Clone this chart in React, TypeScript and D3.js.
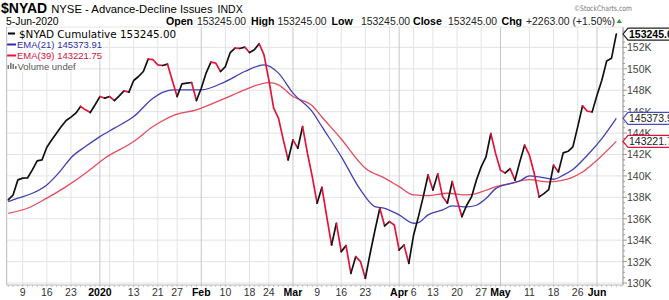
import React from "react";
import * as d3 from "d3";

const W = 669;
const H = 300;

// trading-day index 0 = 9-Dec-2019; first value is 4-Dec-2019
const FIRST_DAY = -3;
// $NYAD cumulative close, in thousands (4-Dec-2019 .. 5-Jun-2020)
const nyadValues = [
  137.76, 138.22, 139.63,
  139.79, 139.81, 140.56, 141.4, 141.5, 142.68, 143.36, 143.99, 144.61, 145.17,
  145.49, 145.86, 146.48, 146.17, 145.92, 146.64, 147.41, 147.26, 147.41, 147.04,
  147.48, 147.94, 147.82, 148.91, 149.28, 149.75, 150.91, 150.85, 150.37, 150.31,
  150.44, 148.9, 147.41, 148.6, 148.66, 148.72, 147.04, 148.19, 149.6, 150.62,
  150.53, 149.75, 150.21, 151.52, 151.93, 151.9, 152.02, 151.52, 151.78, 152.34,
  151.31, 148.97, 146.32, 145.39, 143.36, 141.5, 143.36, 142.58, 144.61, 142.12,
  139.93, 137.45, 138.94, 136.2, 133.55, 135.58, 132.93, 133.49, 130.9, 132.46,
  131.99, 130.44, 132.78, 134.95, 136.98, 135.33, 135.73, 135.42, 133.08, 133.55,
  131.84, 134.49, 136.2, 138.07, 140.09, 138.69, 140.19, 138.07, 137.45, 139.47,
  137.76, 136.2, 137.26, 138.04, 139.6, 140.84, 141.78, 143.96, 142.08, 140.53,
  140.28, 140.68, 139.6, 141.31, 142.87, 141.93, 140.22, 138.04, 138.35, 138.72,
  141.0, 140.37, 142.15, 142.3, 142.71, 144.58, 146.54, 146.04, 145.98, 147.54,
  148.94, 150.72, 150.98, 153.245,
];

// EMA(21) read at selected trading days
const ema21Days = [-3, -1, 2, 5, 8, 10, 13, 16, 19, 23, 27, 29, 31, 37, 42, 46, 50, 53, 56, 60, 62, 66, 70, 73, 75, 78, 81, 82, 84, 87, 89, 92, 94, 96, 98, 101, 103, 105, 107, 110, 112, 114, 117, 120, 123];
const ema21Values = [137.6, 137.92, 138.38, 139.16, 140.56, 141.7, 142.74, 143.67, 144.46, 145.54, 147.26, 147.8, 148.04, 148.04, 148.81, 149.75, 150.37, 149.6, 147.73, 146.0, 144.6, 141.8, 138.69, 137.13, 136.98, 136.36, 135.58, 135.64, 136.36, 136.82, 137.2, 137.1, 137.26, 137.88, 138.81, 139.28, 139.53, 140.0, 139.91, 139.69, 140.07, 140.6, 141.93, 143.49, 145.374];

// EMA(39) read at selected trading days
const ema39Days = [-3, 1, 5, 9, 13, 17, 23, 27, 29, 31, 36, 42, 46, 51, 53, 56, 60, 62, 66, 71, 75, 78, 81, 84, 88, 92, 94, 96, 98, 101, 105, 109, 112, 116, 119, 123];
const ema39Values = [136.51, 136.98, 137.92, 139.0, 140.25, 141.65, 143.21, 144.61, 145.15, 145.61, 146.17, 147.26, 148.04, 148.72, 148.5, 147.41, 146.55, 145.5, 143.45, 140.72, 139.79, 139.0, 138.22, 138.16, 138.38, 138.22, 138.35, 138.66, 138.97, 139.28, 139.65, 139.44, 139.6, 140.37, 141.47, 143.222];

const tickDays = [0, 5, 10, 16, 23, 28, 32, 37, 42, 47, 51, 56, 61, 66, 71, 78, 81, 85, 90, 95, 99, 105, 110, 115, 119];
const tickLabels = ["9", "16", "23", "2020", "13", "21", "27", "Feb", "10", "18", "24", "Mar", "9", "16", "23", "Apr", "6", "13", "20", "27", "May", "11", "18", "26", "Jun"];
const monthLabels = ["2020", "Feb", "Mar", "Apr", "May", "Jun"];
const extraGridDays = [18, 76];
const yTickValues = [130, 132, 134, 136, 138, 140, 142, 144, 146, 148, 150, 152];

const headerFields = ["Open", "High", "Low", "Close"];
const headerValue = "153245.00";
const changeText = "+2263.00 (+1.50%)";
const closeTag = "153245.00";
const ema21Tag = "145373.91";
const ema39Tag = "143221.75";

const PLOT = { left: 6.7, right: 623, top: 27, bottom: 285 };
const UP = "#111111";
const DOWN = "#e0143c";
const BLUE = "#4040b4";
const PINK = "#e64a5e";
const FONT = "'Liberation Sans', Arial, sans-serif";

export default function App() {
  const x = d3.scaleLinear().domain([0, 119]).range([22.7, 597]);
  const y = d3.scaleLinear().domain([130, 152]).range([283, 47.4]);

  const pts: [number, number][] = nyadValues.map((v, k) => [x(k + FIRST_DAY), y(v)]);
  const runs: { color: string; pts: [number, number][] }[] = [];
  for (let k = 1; k < nyadValues.length; k++) {
    const color = nyadValues[k] >= nyadValues[k - 1] ? UP : DOWN;
    const last = runs[runs.length - 1];
    if (last && last.color === color) last.pts.push(pts[k]);
    else runs.push({ color, pts: [pts[k - 1], pts[k]] });
  }
  const line = d3.line<[number, number]>();
  const smooth = d3.line<[number, number]>().curve(d3.curveMonotoneX);
  const ema21Pts: [number, number][] = ema21Days.map((d, k) => [x(d), y(ema21Values[k])]);
  const ema39Pts: [number, number][] = ema39Days.map((d, k) => [x(d), y(ema39Values[k])]);

  const allDays = d3.range(FIRST_DAY, FIRST_DAY + nyadValues.length + 1);
  const minorY = d3.range(130, 154, 0.5);

  const tag = (v: number, stroke: string, text: string, bold: boolean, color: string) => {
    const cy = y(v);
    const h = 12;
    const x0 = PLOT.right;
    const path = `M${x0},${cy} L${x0 + 5},${cy - h / 2} L${W + 2},${cy - h / 2} L${W + 2},${cy + h / 2} L${x0 + 5},${cy + h / 2} Z`;
    return (
      <g>
        <path d={path} fill="#fff" stroke={stroke} strokeWidth={1.2} />
        <text x={x0 + 6} y={cy + 4} fontSize={10.5} fontWeight={bold ? "bold" : "normal"} fill={color} fontFamily={FONT}>
          {text}
        </text>
      </g>
    );
  };

  const headerX = [166, 251, 331.5, 413];
  const valueX = [197, 277.5, 361, 448];

  return (
    <div style={{ position: "absolute", left: 0, top: 0 }}>
      <svg width={W} height={H} style={{ display: "block", background: "#fff" }}>
        <defs>
          <clipPath id="plotClip">
            <rect x={PLOT.left} y={PLOT.top} width={PLOT.right - PLOT.left} height={PLOT.bottom - PLOT.top} />
          </clipPath>
        </defs>
        <rect x={0} y={0} width={W} height={H} fill="#fff" />

        {/* header */}
        <text x={1} y={13} fontFamily={FONT} fill="#000">
          <tspan fontSize={14} fontWeight="bold">$NYAD</tspan>
          <tspan fontSize={11.3} dx={4}>NYSE - Advance-Decline Issues</tspan>
          <tspan fontSize={10.5} dx={5}>INDX</tspan>
        </text>
        <text x={574} y={11} fontFamily="'DejaVu Sans', sans-serif" fontSize={7.6} fill="#777" textLength={58} lengthAdjust="spacingAndGlyphs">
          ©StockCharts.com
        </text>
        <text x={6} y={25} fontFamily={FONT} fontSize={10.4} fill="#000">5-Jun-2020</text>
        {headerFields.map((f, k) => (
          <g key={f}>
            <text x={headerX[k]} y={25} fontFamily={FONT} fontSize={10.6} fontWeight="bold" fill="#000">{f}</text>
            <text x={valueX[k]} y={25} fontFamily={FONT} fontSize={10.4} fill="#222">{headerValue}</text>
          </g>
        ))}
        <text x={501.5} y={25} fontFamily={FONT} fontSize={10.6} fontWeight="bold" fill="#000">Chg</text>
        <text x={526} y={25} fontFamily={FONT} fontSize={10.4} fill="#222">{changeText}</text>
        <path d="M616.5,23 L622,23 L619.25,19 Z" fill="#2a9a3a" />

        {/* grid */}
        <g>
          {yTickValues.map((v) => (
            <line key={"h" + v} x1={PLOT.left} x2={PLOT.right} y1={y(v)} y2={y(v)} stroke="#e3e3e3" strokeWidth={1} />
          ))}
          {extraGridDays.map((d) => (
            <line key={"e" + d} x1={x(d)} x2={x(d)} y1={PLOT.top} y2={PLOT.bottom} stroke="#e3e3e3" strokeWidth={1} />
          ))}
          {tickDays.map((d, k) => (
            <line
              key={"v" + d}
              x1={x(d)}
              x2={x(d)}
              y1={PLOT.top}
              y2={PLOT.bottom}
              stroke={monthLabels.includes(tickLabels[k]) ? "#c6c6c6" : "#e3e3e3"}
              strokeWidth={1}
            />
          ))}
        </g>

        {/* series */}
        <g clipPath="url(#plotClip)" fill="none">
          <path d={smooth(ema39Pts) || ""} stroke={PINK} strokeWidth={1.3} />
          <path d={smooth(ema21Pts) || ""} stroke={BLUE} strokeWidth={1.3} />
          {runs.map((r, k) => (
            <path key={k} d={line(r.pts) || ""} stroke={r.color} strokeWidth={1.7} strokeLinejoin="round" strokeLinecap="round" />
          ))}
        </g>

        {/* legend */}
        <g fontFamily={FONT}>
          <rect x={7} y={28} width={177} height={10.5} fill="#fff" />
          <rect x={7} y={39} width={96} height={10.5} fill="#fff" />
          <rect x={7} y={50} width={96} height={10.5} fill="#fff" />
          <rect x={7} y={61} width={73} height={10.5} fill="#fff" />
          <line x1={8} x2={15} y1={33.5} y2={33.5} stroke="#000" strokeWidth={2} />
          <text x={19} y={37.5} fontFamily="'DejaVu Sans', Verdana, sans-serif" fontSize={10.4} fill="#000">
            $NYAD Cumulative 153245.00
          </text>
          <line x1={7} x2={16} y1={44.5} y2={44.5} stroke="#2c2ca8" strokeWidth={2} />
          <text x={17} y={48} fontSize={9.5} fill="#2c2ca8">EMA(21) {ema21Tag}</text>
          <line x1={7} x2={16} y1={55.5} y2={55.5} stroke="#e0143c" strokeWidth={2} />
          <text x={17} y={59} fontSize={9.5} fill="#d8103a">EMA(39) {ema39Tag}</text>
          <g fill="#777">
            <rect x={7.5} y={65} width={1.6} height={4} />
            <rect x={10} y={63} width={1.6} height={6} />
            <rect x={12.5} y={64} width={1.6} height={5} />
            <rect x={15} y={66} width={1.6} height={3} />
          </g>
          <text x={17.5} y={69.5} fontSize={9.5} fill="#555">Volume undef</text>
        </g>

        {/* frame */}
        <line x1={PLOT.left} x2={PLOT.left} y1={PLOT.top} y2={PLOT.bottom} stroke="#b8b8b8" />
        <line x1={PLOT.left} x2={PLOT.right} y1={PLOT.bottom} y2={PLOT.bottom} stroke="#b8b8b8" />
        <line x1={PLOT.right} x2={PLOT.right} y1={PLOT.top} y2={PLOT.bottom} stroke="#8c8c8c" />
        <line x1={PLOT.left} x2={PLOT.right} y1={PLOT.top} y2={PLOT.top} stroke="#e6e6e6" />

        {/* x axis */}
        {allDays.map((d) => (
          <line key={"t" + d} x1={x(d)} x2={x(d)} y1={PLOT.bottom} y2={PLOT.bottom + 2} stroke="#c0c0c0" />
        ))}
        {tickDays.map((d, k) => {
          const isMonth = monthLabels.includes(tickLabels[k]);
          return (
            <text
              key={"l" + d}
              x={x(d)}
              y={296}
              textAnchor="middle"
              fontFamily={FONT}
              fontSize={10.5}
              fontWeight={isMonth ? "bold" : "normal"}
              fill={isMonth ? "#000" : "#333"}
            >
              {tickLabels[k]}
            </text>
          );
        })}

        {/* y axis */}
        {minorY.map((v) => (
          <line key={"m" + v} x1={PLOT.right} x2={PLOT.right + (v % 2 === 0 ? 4 : 2)} y1={y(v)} y2={y(v)} stroke="#999" />
        ))}
        {yTickValues.map((v) => (
          <text key={"yl" + v} x={627} y={y(v) + 4} fontFamily={FONT} fontSize={10.5} fill="#444">
            {v}K
          </text>
        ))}

        {/* value tags */}
        {tag(ema21Values[ema21Values.length - 1], "#4a4ac0", ema21Tag, false, "#222")}
        {tag(ema39Values[ema39Values.length - 1], "#e0143c", ema39Tag, false, "#222")}
        {tag(nyadValues[nyadValues.length - 1], "#222", closeTag, true, "#000")}
      </svg>
    </div>
  );
}
